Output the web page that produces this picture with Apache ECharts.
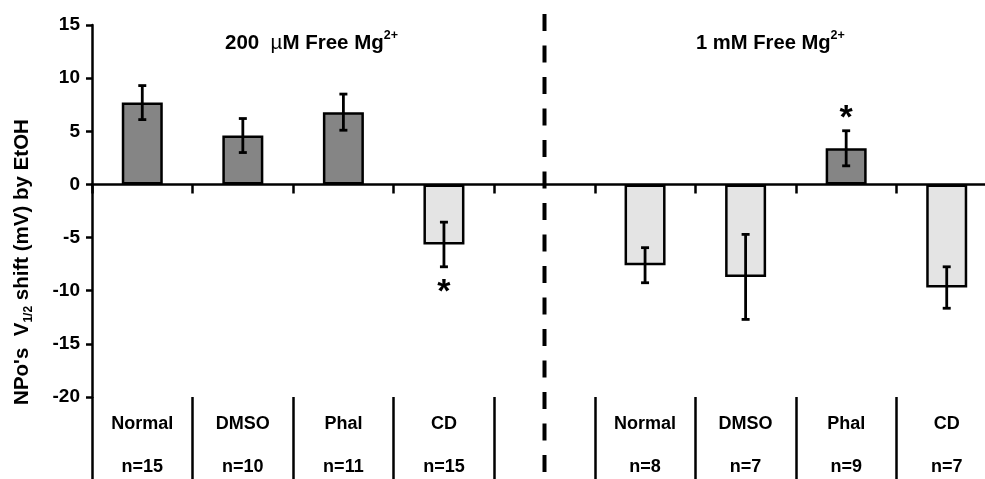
<!DOCTYPE html>
<html><head><meta charset="utf-8">
<script src="https://cdn.jsdelivr.net/npm/echarts@6/dist/echarts.min.js"></script>
<style>html,body{margin:0;padding:0;background:#fff}#c{width:985px;height:479px}</style>
</head><body><div id="c"></div>
<script>
// ---- data ----
const categories = ['Normal', 'DMSO', 'Phal', 'CD', '', 'Normal', 'DMSO', 'Phal', 'CD'];
const nLabels = ['n=15', 'n=10', 'n=11', 'n=15', '', 'n=8', 'n=7', 'n=9', 'n=7'];
const meanShift = [7.7, 4.6, 6.8, -5.65, null, -7.6, -8.7, 3.4, -9.7];
const semShift = [1.6, 1.6, 1.7, 2.1, null, 1.65, 4.0, 1.65, 1.95];
const significant = [false, false, false, true, false, false, false, true, false];
const yMin = -20, yMax = 15, yStep = 5;
const headerHigh = '1 mM Free Mg';
const yName = ["NPo's  V", '1/2', ' shift (mV) by EtOH'];

// ---- style ----
const FONT = "'Liberation Sans', Arial, sans-serif";
const DARK = '#858585', LIGHT = '#e4e4e4';

const chart = echarts.init(document.getElementById('c'));
const errData = meanShift.map((m, i) => m == null ? null : [i, m, semShift[i], significant[i] ? 1 : 0]).filter(Boolean);

const option = {
  animation: false,
  backgroundColor: '#fff',
  grid: { left: 92, top: 25, width: 905, height: 372, containLabel: false, outerBoundsMode: 'none' },
  xAxis: [
    {
      type: 'category', data: categories, position: 'bottom',
      axisLine: { onZero: true, lineStyle: { color: '#000', width: 2.5 } },
      axisTick: { show: true, length: 9, lineStyle: { color: '#000', width: 2.5 } },
      axisLabel: { show: false }, splitLine: { show: false }
    },
    {
      type: 'category', data: categories, position: 'bottom',
      axisLine: { show: false, onZero: false },
      axisTick: { show: true, length: 82, lineStyle: { color: '#000', width: 2.5 } },
      axisLabel: {
        show: true, margin: 6, lineHeight: 43, fontSize: 18, fontWeight: 'bold',
        fontFamily: FONT, color: '#000',
        formatter: (v, i) => categories[i] ? categories[i] + '\n' + nLabels[i] : ''
      },
      splitLine: { show: false }
    }
  ],
  yAxis: {
    type: 'value', min: yMin, max: yMax, interval: yStep,
    axisLine: { show: true, lineStyle: { color: '#000', width: 2.5 } },
    axisTick: { show: true, length: 6, lineStyle: { color: '#000', width: 2.5 } },
    axisLabel: { margin: 12, fontSize: 19, fontWeight: 'bold', fontFamily: FONT, color: '#000' },
    splitLine: { show: false }
  },
  series: [
    {
      type: 'bar', xAxisIndex: 0, barWidth: 41,
      data: meanShift.map(v => v == null ? '-' : v),
      itemStyle: { color: p => p.value >= 0 ? DARK : LIGHT, borderColor: '#000', borderWidth: 2.5 }
    },
    {
      type: 'custom', xAxisIndex: 0, data: errData, clip: false, z: 5,
      renderItem: function (params, api) {
        const i = api.value(0), m = api.value(1), e = api.value(2), s = api.value(3);
        const top = api.coord([i, m + e]), bot = api.coord([i, m - e]);
        const x = top[0], cap = 4;
        const st = { stroke: '#000', lineWidth: 2.8 };
        const children = [
          { type: 'line', shape: { x1: x, y1: top[1], x2: x, y2: bot[1] }, style: st },
          { type: 'line', shape: { x1: x - cap, y1: top[1], x2: x + cap, y2: top[1] }, style: st },
          { type: 'line', shape: { x1: x - cap, y1: bot[1], x2: x + cap, y2: bot[1] }, style: st }
        ];
        if (s) {
          const below = m < 0;
          children.push({
            type: 'text', x: x, y: below ? bot[1] + 26 : top[1] - 12,
            style: { text: '*', font: 'bold 34px ' + FONT, fill: '#000', align: 'center', verticalAlign: 'middle' }
          });
        }
        return { type: 'group', children: children };
      }
    }
  ],
  graphic: [
    {
      id: 'hLow', type: 'text', x: 225, y: 43,
      style: {
        text: '{b|200  }{mu|µ}{b|M Free Mg}{sup|2+}',
        align: 'left', verticalAlign: 'middle',
        rich: {
          b: { fontSize: 20.5, fontWeight: 'bold', fontFamily: FONT, fill: '#000', lineHeight: 28 },
          mu: { fontSize: 20.5, fontWeight: 'normal', fontFamily: FONT, fill: '#000', lineHeight: 28 },
          sup: { fontSize: 12.5, fontWeight: 'bold', fontFamily: FONT, fill: '#000', lineHeight: 12, verticalAlign: 'top' }
        }
      }
    },
    {
      id: 'hHigh', type: 'text', x: 696, y: 43,
      style: {
        text: '{b|' + headerHigh + '}{sup|2+}',
        align: 'left', verticalAlign: 'middle',
        rich: {
          b: { fontSize: 20.2, fontWeight: 'bold', fontFamily: FONT, fill: '#000', lineHeight: 28 },
          sup: { fontSize: 12.5, fontWeight: 'bold', fontFamily: FONT, fill: '#000', lineHeight: 12, verticalAlign: 'top' }
        }
      }
    },
    {
      id: 'yName', type: 'text', x: 22, y: 262, rotation: Math.PI / 2,
      style: {
        text: '{m|' + yName[0] + '}{s|' + yName[1] + '}{m|' + yName[2] + '}',
        align: 'center', verticalAlign: 'middle',
        rich: {
          m: { fontSize: 20.5, fontWeight: 'bold', fontFamily: FONT, fill: '#000', lineHeight: 26 },
          s: { fontSize: 12, fontWeight: 'bold', fontFamily: FONT, fill: '#000', lineHeight: 12, verticalAlign: 'bottom' }
        }
      }
    }
  ]
};
chart.setOption(option);

// dashed divider through the empty category, placed via the axis scale
const xDiv = chart.convertToPixel({ xAxisIndex: 0 }, 4);
chart.setOption({
  graphic: [{
    id: 'divider', type: 'line', z: 10,
    shape: { x1: xDiv, y1: 14, x2: xDiv, y2: 479 },
    style: { stroke: '#000', lineWidth: 4, lineDash: [17, 14.5] }
  }]
});
</script>
</body></html>
